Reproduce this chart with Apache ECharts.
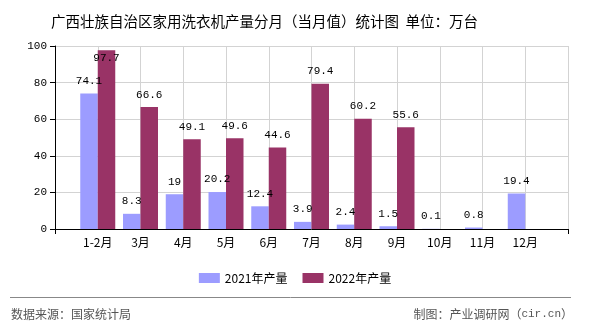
<!DOCTYPE html>
<html><head><meta charset="utf-8">
<script src="https://cdn.jsdelivr.net/npm/echarts@6/dist/echarts.min.js"></script>
<style>html,body{margin:0;padding:0;background:#fff}#c{width:590px;height:330px}</style>
</head><body><div id="c"></div>
<script>
var categories = ['', '1-2月', '3月', '4月', '5月', '6月', '7月', '8月', '9月', '10月', '11月', '12月', ''];
var values2021 = [null, 74.1, 8.3, 19, 20.2, 12.4, 3.9, 2.4, 1.5, 0.1, 0.8, 19.4, null];
var values2022 = [null, 97.7, 66.6, 49.1, 49.6, 44.6, 79.4, 60.2, 55.6, null, null, null, null];
var yTicks = [0, 20, 40, 60, 80, 100];

var numFont = 'Liberation Mono';
function mapData(arr) {
  return arr.map(function (v) {
    if (v !== null && v > 90) {
      return { value: v, label: { position: 'insideTop', distance: 2 } };
    }
    return v;
  });
}
var chart = echarts.init(document.getElementById('c'));
chart.setOption({
  animation: false,
  title: {
    text: '广西壮族自治区家用洗衣机产量分月（当月值）统计图  单位：万台',
    left: 46, top: 9,
    textStyle: { fontSize: 14.5, fontWeight: 'normal', color: '#000', fontFamily: 'Noto Sans CJK SC' }
  },
  legend: {
    top: 267, left: 'center',
    itemWidth: 21, itemHeight: 10, itemGap: 15,
    icon: 'rect',
    textStyle: { fontSize: 12, color: '#000', fontFamily: 'Noto Sans CJK SC' },
    data: ['2021年产量', '2022年产量']
  },
  grid: { left: 55, right: 22, top: 46, bottom: 101 },
  xAxis: {
    type: 'category', data: categories, boundaryGap: false,
    axisLine: { lineStyle: { color: '#000', width: 1 } },
    axisTick: { show: true, interval: function (i) { return i === 0 || i === categories.length - 1; }, length: 5, lineStyle: { color: '#000' } },
    axisLabel: { interval: 0, margin: 7, fontSize: 12, color: '#000', fontFamily: 'Noto Sans CJK SC' },
    splitLine: { show: true, interval: 0, lineStyle: { color: '#d3d3d3' } }
  },
  yAxis: {
    type: 'value', min: 0, max: 100, interval: 20,
    axisLine: { show: true, lineStyle: { color: '#000' } },
    axisTick: { show: true, length: 5, lineStyle: { color: '#000' } },
    axisLabel: { margin: 8, fontSize: 11, color: '#000', fontFamily: numFont,
      formatter: function (v) { return yTicks.indexOf(v) >= 0 ? String(v) : ''; } },
    splitLine: { lineStyle: { color: '#d3d3d3' } }
  },
  series: [
    { name: '2021年产量', type: 'bar', data: mapData(values2021), barWidth: 17.5, barGap: '0%',
      itemStyle: { color: '#9c9cff' },
      label: { show: true, position: 'top', distance: 7, fontSize: 11, color: '#000', fontFamily: numFont } },
    { name: '2022年产量', type: 'bar', data: mapData(values2022), barWidth: 17.5, barGap: '0%',
      itemStyle: { color: '#993366' },
      label: { show: true, position: 'top', distance: 7, fontSize: 11, color: '#000', fontFamily: numFont } }
  ],
  graphic: [
    { type: 'line', shape: { x1: 10, y1: 297.5, x2: 571, y2: 297.5 }, style: { stroke: '#888', lineWidth: 1 } },
    { type: 'text', left: 11, top: 308, style: { text: '数据来源：国家统计局', fontSize: 12, fill: '#555', fontFamily: 'Noto Sans CJK SC' } },
    { type: 'text', right: 17, top: 308, style: {
        text: '{a|制图：产业调研网（}{b|cir.cn}{a|）}',
        rich: {
          a: { fontSize: 12, fill: '#555', color: '#555', fontFamily: 'Noto Sans CJK SC' },
          b: { fontSize: 11, fill: '#555', color: '#555', fontFamily: 'Liberation Mono' }
        } } }
  ]
});
</script></body></html>
